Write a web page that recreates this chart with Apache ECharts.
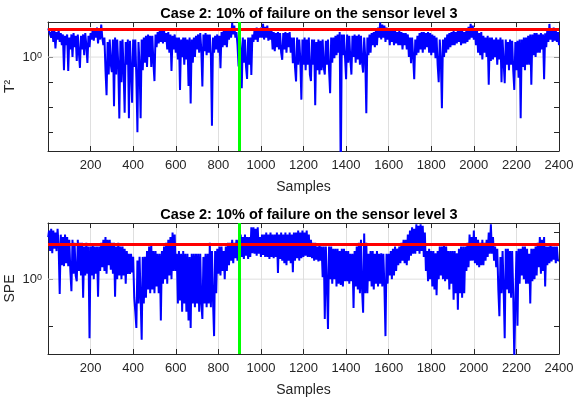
<!DOCTYPE html>
<html>
<head>
<meta charset="utf-8">
<script src="https://cdn.jsdelivr.net/npm/echarts@6/dist/echarts.min.js"></script>
<style>
html, body { margin: 0; padding: 0; background: #fff; }
#chart { width: 580px; height: 401px; }
</style>
</head>
<body>
<div id="chart"></div>
<script>
// sample index of every value: 1, then every 5 samples up to 2400
const samples = [1];
for (let s = 5; s <= 2400; s += 5) samples.push(s);

// T² statistic (one row = 50 samples)
const t2 = [14,
  12, 16, 6, 13, 4, 11, 2.2, 10, 5, 12,
  4, 9, 3, 8, 0.3, 7, 3, 8, 0.28, 6,
  2, 8, 1.0, 9, 2.5, 7, 0.7, 8, 1.5, 0.37,
  7, 2, 8, 1.2, 9, 3, 0.58, 7, 2.5, 9,
  5, 14, 4.5, 12, 6, 15, 3.5, 13, 5, 20,
  6, 3, 6, 0.3, 0.03, 4, 0.2, 5, 0.5, 0.25,
  5, 0.011, 6, 0.2, 5, 0.5, 0.0035, 4.5, 0.1, 5,
  0.3, 0.006, 4, 0.5, 5, 0.0036, 4.5, 0.3, 0.015, 5,
  0.4, 5, 0.15, 0.001, 4, 0.5, 0.0036, 5, 0.3, 6,
  0.6, 7, 0.4, 8, 1.0, 7, 0.4, 7, 0.6, 0.11,
  8, 2.5, 10, 3.5, 12, 4, 11, 3.5, 12, 4,
  9, 2, 10, 1.5, 8, 0.28, 7, 2, 8, 1.5,
  6, 0.8, 6, 0.049, 5, 1.0, 6, 0.5, 6, 0.8,
  5, 0.07, 6, 0.014, 5, 0.6, 6, 1.0, 7, 2,
  8, 1.5, 9, 2, 0.067, 8, 1.7, 9, 1.2, 8,
  1.5, 8, 1.2, 0.0018, 6, 1.5, 7, 2, 8, 1.5,
  7, 0.36, 10, 2.5, 11, 3, 12, 2.5, 11, 5,
  14, 6, 23, 8, 18, 6, 10, 3, 0.42, 8,
  2, 0.057, 6, 0.6, 5, 0.4, 0.135, 6, 0.5, 6,
  0.195, 8, 4, 12, 5, 15, 4, 13, 6, 15,
  6, 21, 5, 16, 6, 18, 4.5, 14, 5, 11,
  2, 10, 1.7, 9, 2.5, 10, 2, 9, 1.5, 0.78,
  9, 2, 10, 1.5, 9, 2.5, 10, 1.5, 6, 0.57,
  6, 0.4, 0.106, 6, 0.5, 5, 0.8, 0.02, 5, 0.5,
  6, 0.3, 5, 0.5, 6, 0.2, 0.11, 5, 0.5, 5,
  0.012, 4, 0.3, 5, 0.2, 4.5, 0.3, 5, 0.4, 0.2,
  4.5, 0.5, 5, 0.3, 0.036, 6, 0.6, 6, 0.9, 7,
  1.2, 8, 1.5, 10, 0.00001, 8, 1.2, 8, 1.0, 0.13,
  8, 0.6, 7, 0.8, 0.2, 7, 1.0, 8, 0.6, 7,
  0.8, 8, 0.5, 7, 0.6, 0.24, 6, 1.0, 0.0057, 6,
  1.2, 8, 1.5, 9, 3, 10, 2.5, 12, 3, 15,
  6, 24, 5, 20, 6, 18, 4, 15, 5, 14,
  3, 11, 4, 12, 3, 12, 3.5, 10, 3, 11,
  3, 10, 2, 9, 3, 9, 2, 8, 1.0, 6,
  0.57, 6, 1.0, 0.13, 5, 1.2, 7, 1.5, 9, 2,
  10, 1.5, 10, 2, 9, 2.5, 10, 1.5, 9, 1.2,
  8, 1.5, 7, 0.9, 6, 0.5, 0.1, 5, 0.8, 0.009,
  5, 1.0, 6, 1.5, 8, 2, 9, 2.5, 10, 3,
  11, 3, 10, 3.5, 12, 4, 11, 3, 12, 3.5,
  10, 3.5, 12, 4, 16, 5, 21, 6, 18, 5,
  14, 3, 12, 1.5, 9, 1.2, 10, 0.8, 7, 1.5,
  6, 1.0, 7, 0.078, 6, 0.7, 6, 0.8, 5, 1.0,
  6, 0.5, 5, 0.8, 6, 0.1, 5, 0.6, 0.09, 5,
  0.5, 4, 0.3, 5, 0.5, 4.5, 0.3, 0.049, 4, 0.3,
  4.5, 0.15, 5, 0.0036, 5, 0.4, 6, 0.3, 6, 0.5,
  7, 0.5, 8, 0.078, 8, 1.2, 9, 1.0, 9, 1.5,
  8, 1.5, 9, 2, 8, 0.13, 9, 2.5, 12, 4,
  21, 5, 14, 4, 15, 4.5, 12, 4, 10, 3
];

// SPE statistic
const spe = [8,
  11, 4, 12, 3.6, 11, 4.5, 10, 4, 12, 5,
  0.48, 9, 2, 8, 1.9, 9, 2.2, 8, 1.9, 7,
  1.5, 0.55, 7, 1.3, 6, 1.2, 0.9, 7, 1.5, 6,
  1.2, 6, 0.4, 5, 1.2, 6, 1.3, 5, 0.054, 5,
  1.2, 5.5, 1.0, 5, 1.3, 5, 0.42, 5, 1.5, 6,
  1.8, 7, 1.5, 8, 1.3, 7, 2, 7, 1.6, 6,
  1.3, 6, 0.42, 5, 1.0, 6, 1.2, 5, 1.0, 5,
  1.2, 4.5, 0.8, 4, 1.3, 3.5, 1.3, 3.5, 1.4, 3,
  0.4, 0.2, 0.09, 2.5, 0.3, 3, 0.4, 0.05, 3, 0.3,
  3, 0.4, 4, 0.6, 5, 0.5, 5.5, 0.6, 4, 0.5,
  4, 0.7, 3.5, 0.5, 3.5, 0.13, 4, 0.8, 5, 1.0,
  6, 0.8, 7, 1.2, 8, 1.0, 10, 1.5, 9, 1.5,
  3.5, 0.3, 4, 0.35, 3.5, 0.2, 4, 0.3, 3.5, 0.2,
  3.5, 0.13, 3, 0.09, 3.5, 0.3, 3.5, 0.25, 3.5, 0.3,
  3.5, 0.2, 3.5, 0.3, 0.14, 3, 0.3, 3.5, 0.25, 3.5,
  0.3, 6, 0.25, 4, 0.35, 0.06, 4, 0.5, 4.5, 1.3,
  5, 1.2, 5, 1.5, 4, 1.0, 5, 1.5, 6, 2,
  6, 2.5, 7, 2.2, 6, 2.8, 7, 2.5, 7, 2.5,
  9, 3, 8, 2.7, 9, 3.2, 8, 2.7, 8, 3,
  13, 3.6, 13, 3.5, 12, 3.2, 13, 3.5, 8, 3,
  9, 3.3, 9, 3, 10, 3, 9, 2.7, 10, 3,
  9, 2.8, 9, 3, 10, 1.35, 9, 2.7, 10, 2.5,
  9, 2.2, 10, 2, 9, 2.5, 10, 2.2, 9, 1.4,
  10, 2.5, 10, 2.8, 11, 2.5, 10, 2.8, 11, 3,
  10, 3.2, 11, 3, 9, 3, 7, 2.8, 6, 2.5,
  6, 2.6, 5, 2.4, 5.5, 2.5, 5, 1.1, 5, 0.14,
  5, 0.8, 0.085, 5, 1.0, 5, 0.8, 4.5, 1.0, 4.5,
  0.7, 4.5, 0.8, 4, 0.75, 4.5, 0.7, 4.5, 0.9, 4,
  0.9, 4, 0.8, 3.5, 0.9, 3.5, 0.24, 4, 0.7, 5,
  0.6, 6, 0.5, 7, 0.6, 0.19, 9.5, 0.5, 6, 0.5,
  3.5, 0.9, 4, 0.7, 4, 0.6, 3.5, 0.8, 4, 0.7,
  3.5, 0.8, 3.6, 0.7, 3.5, 0.7, 0.06, 3.5, 0.8, 3.5,
  1.2, 4, 1.0, 4.5, 1.2, 5, 1.5, 4.5, 2, 5,
  2.2, 6, 2.5, 7, 2.2, 7, 2, 9, 2.5, 11,
  3.2, 13, 3.5, 12, 3.5, 15, 4, 14, 3.5, 15,
  4, 14, 3, 10, 1.5, 4, 0.9, 4.5, 1.0, 4,
  0.7, 4, 0.6, 3.6, 0.45, 4, 1.0, 5, 1.2, 5,
  1.0, 5.5, 0.9, 5, 1.0, 4, 0.6, 4, 0.8, 4,
  0.36, 4, 0.5, 3.6, 0.22, 4.5, 0.5, 5, 0.4, 5,
  0.5, 5, 1.5, 6, 1.8, 9, 2.5, 8, 2.5, 11,
  2.2, 8, 2, 7, 1.8, 6, 2, 7, 2, 6,
  2.5, 7, 3, 10, 3.5, 15, 3.5, 8, 2.5, 5,
  1.8, 4.5, 0.6, 0.16, 3, 0.5, 4, 0.6, 0.054, 4.5,
  0.6, 4.5, 0.5, 4, 0.4, 4, 0.5, 0.02, 0.3, 4,
  0.1, 4.5, 0.8, 4.5, 1.2, 5, 1.0, 5, 0.8, 4.5,
  0.8, 3.5, 0.3, 4.5, 0.9, 4.5, 1.0, 5, 1.2, 6,
  1.8, 8, 1.3, 7, 1.5, 8, 0.7, 5, 2, 5,
  2.2, 5.5, 2.4, 5, 2.6, 5, 2.2, 5, 2.5, 2.5
];

const t2Limit = 13.2;
const speLimit = 5.7;
const faultStart = 900;
const titleText = 'Case 2: 10% of failure on the sensor level 3';

// log axis ranges and tick marks
const t2Range = [0.000178, 25.1];
const speRange = [0.0248, 16.0];
const t2Ticks = [0.001, 0.01, 0.1, 1, 10];
const speTicks = [0.1, 1, 10];

const FONT = '"Liberation Sans", Arial, sans-serif';
const INK = '#262626';
const GRIDC = '#dfdfdf';

function xAxes(g) {
    return [
        {
            type: 'value', gridIndex: g, min: 0, max: 2400, interval: 200, position: 'bottom',
            axisLine: { show: true, onZero: false, lineStyle: { color: INK, width: 1 } },
            axisTick: { inside: true, length: 5, lineStyle: { color: INK } },
            axisLabel: { margin: 8, color: INK, fontSize: 13, fontFamily: FONT,
                formatter: v => (v === 0 ? '' : String(v)) },
            splitLine: { show: true, lineStyle: { color: GRIDC, width: 1 } },
            name: 'Samples', nameLocation: 'middle', nameGap: 29, nameMoveOverlap: false,
            nameTextStyle: { color: INK, fontSize: 14, fontFamily: FONT }
        },
        {
            type: 'value', gridIndex: g, min: 0, max: 2400, interval: 200, position: 'top',
            axisLine: { show: true, onZero: false, lineStyle: { color: INK, width: 1 } },
            axisTick: { inside: true, length: 5, lineStyle: { color: INK } },
            axisLabel: { show: false },
            splitLine: { show: false }
        }
    ];
}

function yAxes(g, range, ticks, name) {
    return [
        {
            type: 'log', logBase: 10, gridIndex: g, min: range[0], max: range[1], position: 'left',
            axisLine: { show: true, onZero: false, lineStyle: { color: INK, width: 1 } },
            axisTick: { inside: true, length: 5, customValues: ticks, lineStyle: { color: INK } },
            axisLabel: {
                customValues: [1], margin: 6,
                formatter: () => '{b|10}{s|0}',
                rich: {
                    b: { fontSize: 13, color: INK, fontFamily: FONT },
                    s: { fontSize: 9, color: INK, fontFamily: FONT, verticalAlign: 'top' }
                }
            },
            splitLine: { show: false },
            name: name, nameLocation: 'middle', nameGap: 31, nameMoveOverlap: false,
            nameTextStyle: { color: INK, fontSize: 14, fontFamily: FONT }
        },
        {
            type: 'log', logBase: 10, gridIndex: g, min: range[0], max: range[1], position: 'right',
            axisLine: { show: true, onZero: false, lineStyle: { color: INK, width: 1 } },
            axisTick: { inside: true, length: 5, customValues: ticks, lineStyle: { color: INK } },
            axisLabel: { show: false },
            splitLine: { show: false }
        }
    ];
}

function panel(values, limit, xi, yi) {
    return [
        {   // 10^0 grid line, under the data
            type: 'line', xAxisIndex: xi, yAxisIndex: yi, z: 1, silent: true,
            data: [[0, 1], [2400, 1]], showSymbol: false,
            lineStyle: { color: GRIDC, width: 1 }
        },
        {
            type: 'line', xAxisIndex: xi, yAxisIndex: yi, z: 3,
            data: samples.map((s, i) => [s, values[i]]),
            showSymbol: false,
            lineStyle: { color: '#0000ff', width: 2 },
            itemStyle: { color: '#0000ff' },
            markLine: {
                silent: true, symbol: 'none', animation: false,
                label: { show: false },
                data: [
                    { yAxis: limit, lineStyle: { color: '#ff0000', width: 3, type: 'solid' } },
                    { xAxis: faultStart, lineStyle: { color: '#00ff00', width: 3, type: 'solid' } }
                ]
            }
        }
    ];
}

const chart = echarts.init(document.getElementById('chart'), null, { renderer: 'canvas' });
chart.setOption({
    animation: false,
    backgroundColor: '#ffffff',
    title: [
        { text: titleText, left: 304, top: 1, textAlign: 'center',
          textStyle: { fontSize: 14.5, fontWeight: 'bold', color: '#000', fontFamily: FONT } },
        { text: titleText, left: 304, top: 202, textAlign: 'center',
          textStyle: { fontSize: 14.5, fontWeight: 'bold', color: '#000', fontFamily: FONT } }
    ],
    grid: [
        { left: 48, right: 21, top: 22, height: 129, outerBoundsMode: 'none' },
        { left: 48, right: 21, top: 223, height: 131, outerBoundsMode: 'none' }
    ],
    xAxis: xAxes(0).concat(xAxes(1)),
    yAxis: yAxes(0, t2Range, t2Ticks, 'T²').concat(yAxes(1, speRange, speTicks, 'SPE')),
    series: panel(t2, t2Limit, 0, 0).concat(panel(spe, speLimit, 2, 2))
});
</script>
</body>
</html>
